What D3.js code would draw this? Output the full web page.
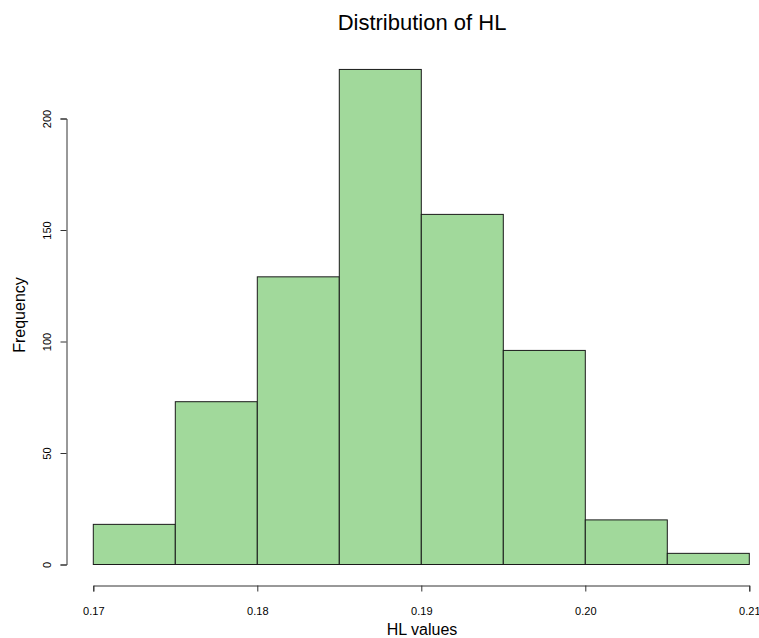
<!DOCTYPE html>
<html>
<head>
<meta charset="utf-8">
<script src="https://cdnjs.cloudflare.com/ajax/libs/d3/7.8.5/d3.min.js"></script>
<style>
  body { margin: 0; background: #fff; }
  text { font-family: "Liberation Sans", Arial, sans-serif; fill: #000; }
</style>
</head>
<body>
<script>
// histogram bins (lower edges) and counts
var binStarts = [0.170, 0.175, 0.180, 0.185, 0.190, 0.195, 0.200, 0.205];
var binWidth = 0.005;
var counts = [18, 73, 129, 222, 157, 96, 20, 5];
var xTicks = [0.17, 0.18, 0.19, 0.20, 0.21];
var xTickLabels = ["0.17", "0.18", "0.19", "0.20", "0.21"];
var yTicks = [0, 50, 100, 150, 200];

var width = 759, height = 638;

var x = d3.scaleLinear().domain([0.17, 0.21]).range([93.3, 749.3]);
var y = d3.scaleLinear().domain([0, 200]).range([564.5, 118.5]);

var svg = d3.select("body").append("svg")
    .attr("width", width)
    .attr("height", height);

// bars
svg.selectAll("rect.bar")
   .data(counts)
   .enter()
   .append("rect")
   .attr("class", "bar")
   .attr("x", function(d, i) { return x(binStarts[i]); })
   .attr("y", function(d) { return y(d); })
   .attr("width", function(d, i) { return x(binStarts[i] + binWidth) - x(binStarts[i]); })
   .attr("height", function(d) { return y(0) - y(d); })
   .attr("fill", "#a1d99b")
   .attr("stroke", "#1a1a1a")
   .attr("stroke-width", 1);

// x axis
var xAxis = svg.append("g")
    .attr("transform", "translate(0,585.5)")
    .call(d3.axisBottom(x).tickValues(xTicks).tickSize(6).tickPadding(16)
          .tickFormat(function(d, i) { return xTickLabels[i]; }));
xAxis.select(".domain").attr("stroke", "#333");
xAxis.selectAll(".tick line").attr("stroke", "#333");
xAxis.selectAll("text").style("font-size", "11px").style("font-family", "Liberation Sans, Arial, sans-serif").attr("fill", "#000");

// y axis
var yAxis = svg.append("g")
    .attr("transform", "translate(66.5,0)")
    .call(d3.axisLeft(y).tickValues(yTicks).tickSize(6));
yAxis.select(".domain").attr("stroke", "#333");
yAxis.selectAll(".tick line").attr("stroke", "#333");
yAxis.selectAll("text")
    .style("font-size", "11px")
    .style("font-family", "Liberation Sans, Arial, sans-serif")
    .attr("fill", "#000")
    .attr("x", null).attr("dy", null)
    .attr("text-anchor", "middle")
    .attr("transform", "translate(-16,0) rotate(-90)")
    .attr("y", 0);

// titles
svg.append("text")
   .attr("x", 422).attr("y", 30)
   .attr("text-anchor", "middle")
   .style("font-size", "22px")
   .text("Distribution of HL");

svg.append("text")
   .attr("x", 422).attr("y", 635)
   .attr("text-anchor", "middle")
   .style("font-size", "16px")
   .text("HL values");

svg.append("text")
   .attr("transform", "translate(25,315) rotate(-90)")
   .attr("text-anchor", "middle")
   .style("font-size", "16px")
   .text("Frequency");
</script>
</body>
</html>
